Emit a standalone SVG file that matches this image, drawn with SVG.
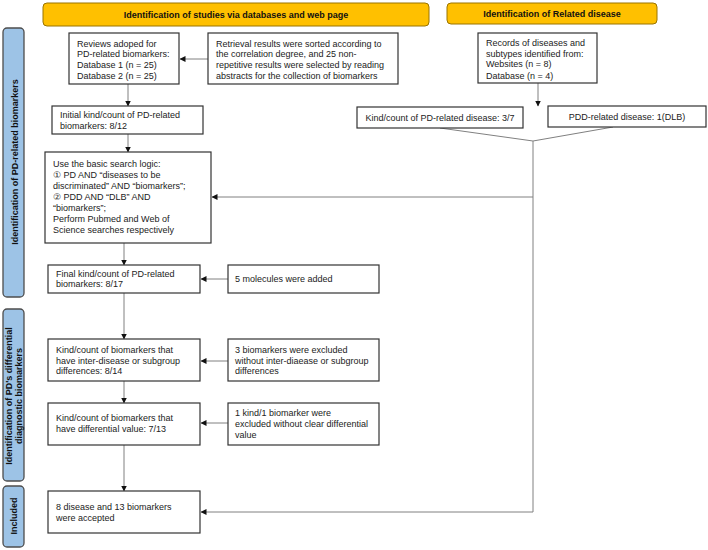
<svg xmlns="http://www.w3.org/2000/svg" width="708" height="550" viewBox="0 0 708 550">
<defs>
<marker id="arr" markerWidth="6" markerHeight="6" refX="5.5" refY="3" orient="auto" markerUnits="userSpaceOnUse">
<path d="M0,0 L6,3 L0,6 Z" fill="#111"/>
</marker>
<style>
.hdr{fill:#FFC000;stroke:#9a7400;stroke-width:1}
.side{fill:#9DC3E6;stroke:#4d4d4d;stroke-width:1.3}
.box{fill:#fff;stroke:#333;stroke-width:1.2}
.t{font-family:"Liberation Sans",Arial,sans-serif;font-size:9px;fill:#222}
.b{font-family:"Liberation Sans",Arial,sans-serif;font-size:9px;font-weight:bold;fill:#111}
.c{text-anchor:middle}
.ln{fill:none;stroke:#808080;stroke-width:1}
</style>
</defs>
<rect width="708" height="550" fill="#fff"/>

<g id="header1"><rect class="hdr" x="43" y="3" width="386" height="23" rx="4"/><text class="b c" x="236" y="18">Identification of studies via databases and web page</text></g>
<g id="header2"><rect class="hdr" x="447" y="3" width="210" height="21" rx="4"/><text class="b c" x="552" y="17">Identification of Related disease</text></g>

<g id="side1"><rect class="side" x="3" y="28" width="21" height="269" rx="4"/><text class="b c" transform="translate(17.5,162) rotate(-90)">Identification of PD-related biomarkers</text></g>
<g id="side2"><rect class="side" x="3" y="309" width="21" height="172" rx="4"/><text class="b c" transform="translate(11.5,396) rotate(-90)">Identification of PD's differential</text><text class="b c" transform="translate(21.5,396) rotate(-90)">diagnostic biomarkers</text></g>
<g id="side3"><rect class="side" x="3" y="486" width="21" height="61" rx="4"/><text class="b c" transform="translate(17,516) rotate(-90)">Included</text></g>

<g id="connectors">
<line class="ln" x1="208" y1="59" x2="180" y2="59" marker-end="url(#arr)"/>
<line class="ln" x1="128" y1="84" x2="128" y2="106" marker-end="url(#arr)"/>
<line class="ln" x1="128" y1="134" x2="128" y2="152" marker-end="url(#arr)"/>
<line class="ln" x1="538" y1="83" x2="538" y2="106" marker-end="url(#arr)"/>
<polyline class="ln" points="440,128 533,141 613,127"/>
<line class="ln" x1="533" y1="141" x2="533" y2="512"/>
<line class="ln" x1="533" y1="197" x2="212" y2="197" marker-end="url(#arr)"/>
<line class="ln" x1="533" y1="512" x2="201" y2="512" marker-end="url(#arr)"/>
<line class="ln" x1="124" y1="243" x2="124" y2="265" marker-end="url(#arr)"/>
<line class="ln" x1="228" y1="279" x2="201" y2="279" marker-end="url(#arr)"/>
<line class="ln" x1="124" y1="293" x2="124" y2="339" marker-end="url(#arr)"/>
<line class="ln" x1="228" y1="361" x2="201" y2="361" marker-end="url(#arr)"/>
<line class="ln" x1="124" y1="381" x2="124" y2="403" marker-end="url(#arr)"/>
<line class="ln" x1="228" y1="423" x2="201" y2="423" marker-end="url(#arr)"/>
<line class="ln" x1="124" y1="445" x2="124" y2="491" marker-end="url(#arr)"/>
</g>

<g id="reviews"><rect class="box" x="69" y="33" width="110" height="51"/>
<text class="t" x="77" y="46.5">Reviews adoped for</text>
<text class="t" x="77" y="57.2">PD-related biomarkers:</text>
<text class="t" x="77" y="67.9">Database 1 (n = 25)</text>
<text class="t" x="77" y="78.5">Database 2 (n = 25)</text></g>

<g id="retrieval"><rect class="box" x="208" y="33" width="190" height="51"/>
<text class="t" x="216" y="46.5">Retrieval results were sorted according to</text>
<text class="t" x="216" y="57.2">the correlation degree, and 25 non-</text>
<text class="t" x="216" y="67.9">repetitive results were selected by reading</text>
<text class="t" x="216" y="78.5">abstracts for the collection of biomarkers</text></g>

<g id="records"><rect class="box" x="478" y="33" width="119" height="50"/>
<text class="t" x="486" y="46">Records of diseases and</text>
<text class="t" x="486" y="56.7">subtypes identified from:</text>
<text class="t" x="486" y="67.4">Websites (n = 8)</text>
<text class="t" x="486" y="78.6">Database (n = 4)</text></g>

<g id="initial"><rect class="box" x="52" y="106" width="151" height="28"/>
<text class="t" x="60" y="118.3">Initial kind/count of PD-related</text>
<text class="t" x="60" y="129">biomarkers: 8/12</text></g>

<g id="pdDisease"><rect class="box" x="357" y="107" width="166" height="21"/>
<text class="t c" x="440" y="120.5">Kind/count of PD-related disease: 3/7</text></g>

<g id="pddDisease"><rect class="box" x="548" y="106" width="158" height="21"/>
<text class="t c" x="627" y="119.5">PDD-related disease: 1(DLB)</text></g>

<g id="search"><rect class="box" x="45" y="152" width="166" height="91"/>
<text class="t" x="53" y="167.3">Use the basic search logic:</text>
<text class="t" x="53" y="178">① PD AND “diseases to be</text>
<text class="t" x="53" y="189">discriminated” AND “biomarkers”;</text>
<text class="t" x="53" y="200">② PDD AND “DLB” AND</text>
<text class="t" x="53" y="210.7">“biomarkers”;</text>
<text class="t" x="53" y="222.3">Perform Pubmed and Web of</text>
<text class="t" x="53" y="233">Science searches respectively</text></g>

<g id="final"><rect class="box" x="48" y="265" width="152" height="28"/>
<text class="t" x="56" y="277">Final kind/count of PD-related</text>
<text class="t" x="56" y="287.3">biomarkers: 8/17</text></g>

<g id="added"><rect class="box" x="228" y="265" width="151" height="28"/>
<text class="t" x="235" y="282.3">5 molecules were added</text></g>

<g id="interdisease"><rect class="box" x="48" y="339" width="152" height="42"/>
<text class="t" x="56" y="353">Kind/count of biomarkers that</text>
<text class="t" x="56" y="363.7">have inter-disease or subgroup</text>
<text class="t" x="56" y="374.3">differences: 8/14</text></g>

<g id="excluded1"><rect class="box" x="228" y="339" width="151" height="42"/>
<text class="t" x="235" y="353">3 biomarkers were excluded</text>
<text class="t" x="235" y="363.7">without inter-diaease or subgroup</text>
<text class="t" x="235" y="374.3">differences</text></g>

<g id="differential"><rect class="box" x="48" y="403" width="152" height="42"/>
<text class="t" x="56" y="421.3">Kind/count of biomarkers that</text>
<text class="t" x="56" y="432.3">have differential value: 7/13</text></g>

<g id="excluded2"><rect class="box" x="228" y="403" width="151" height="42"/>
<text class="t" x="235" y="416">1 kind/1 biomarker were</text>
<text class="t" x="235" y="427">excluded without clear differential</text>
<text class="t" x="235" y="438">value</text></g>

<g id="accepted"><rect class="box" x="48" y="491" width="152" height="42"/>
<text class="t" x="56" y="509.7">8 disease and 13 biomarkers</text>
<text class="t" x="56" y="520.7">were accepted</text></g>
</svg>
